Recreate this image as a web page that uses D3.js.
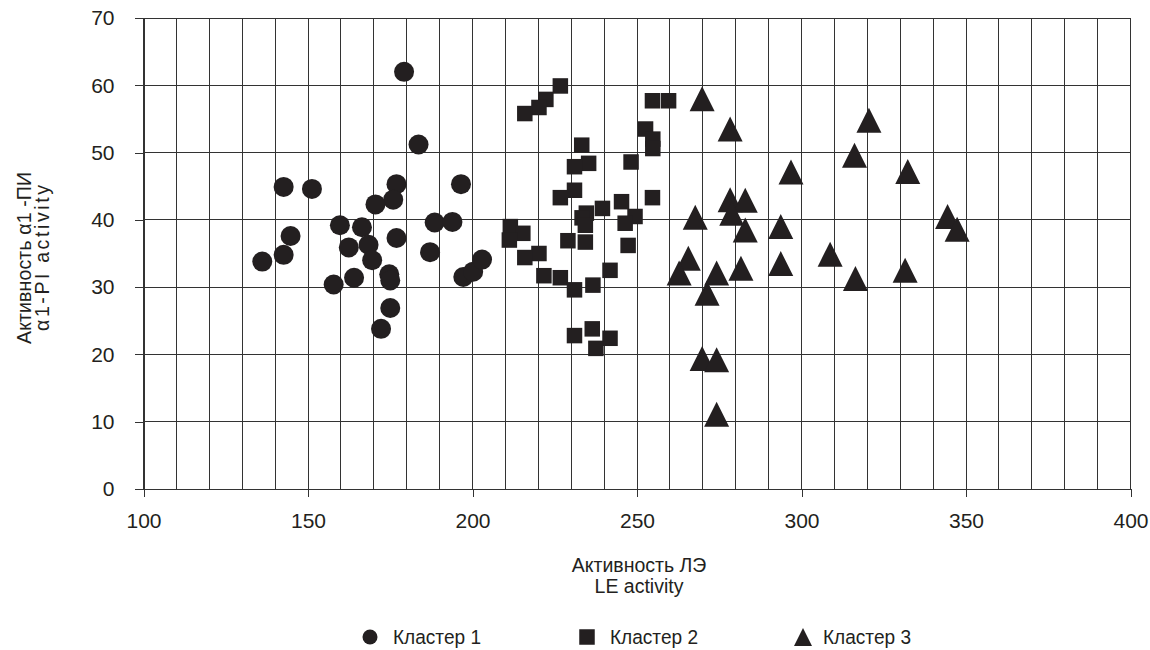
<!DOCTYPE html>
<html>
<head>
<meta charset="utf-8">
<script src="https://cdn.jsdelivr.net/npm/d3@7"></script>
<style>
  html, body { margin: 0; padding: 0; background: #fff; }
  svg text { font-family: "Liberation Sans Narrow", "Arial Narrow", "Liberation Sans", Arial, sans-serif; fill: #231f20; }
</style>
</head>
<body>
<svg id="chart" width="1150" height="650"></svg>
<script>
// ---- data ----
const cluster1 = [
  [179.2,62.0],[183.6,51.2],[142.6,44.9],[151.2,44.6],[176.9,45.3],[175.9,43.0],[170.5,42.3],
  [196.5,45.3],[188.5,39.6],[193.9,39.7],[159.7,39.2],[166.4,38.9],[144.7,37.6],[176.9,37.3],
  [162.4,35.9],[168.4,36.3],[169.5,34.0],[142.6,34.8],[136.1,33.8],[187.1,35.2],[164.0,31.4],
  [157.8,30.4],[174.7,31.9],[175.0,31.0],[197.2,31.5],[200.2,32.3],[202.9,34.1],[175.0,26.9],
  [172.2,23.8]
];
const cluster2 = [
  [226.7,59.9],[222.3,57.9],[220.2,56.7],[215.9,55.8],[254.7,57.7],[259.6,57.7],[252.6,53.5],
  [254.8,52.0],[254.8,50.6],[233.2,51.1],[235.3,48.4],[231.0,47.9],[248.2,48.6],[231.0,44.4],
  [226.7,43.3],[254.7,43.3],[245.3,42.7],[234.6,41.0],[239.5,41.7],[233.3,40.3],[249.4,40.5],
  [246.4,39.5],[234.3,39.2],[211.5,39.0],[215.3,38.0],[211.2,37.0],[229.0,36.9],[234.3,36.7],
  [247.3,36.2],[220.2,35.0],[215.9,34.4],[241.8,32.5],[221.7,31.7],[226.7,31.4],[231.0,29.6],
  [236.6,30.3],[236.4,23.8],[231.0,22.8],[241.8,22.4],[237.5,20.9]
];
const cluster3 = [
  [269.8,58.0],[278.3,53.5],[320.5,54.8],[316.1,49.6],[296.8,47.1],[332.3,47.2],[278.3,43.0],
  [282.9,42.9],[278.8,41.0],[267.7,40.4],[282.9,38.5],[293.7,39.0],[344.4,40.5],[347.3,38.6],
  [265.6,34.3],[262.8,32.1],[274.2,32.1],[281.6,32.8],[293.7,33.5],[308.7,34.9],[316.4,31.3],
  [331.5,32.5],[271.3,29.1],[269.8,19.4],[274.2,19.2],[274.2,11.1]
];
const seriesNames = ["Кластер 1", "Кластер 2", "Кластер 3"];
const xTicks = [100, 150, 200, 250, 300, 350, 400];
const yTicks = [0, 10, 20, 30, 40, 50, 60, 70];
const xGrid = d3.range(100, 401, 10);
const xTitle = ["Активность ЛЭ", "LE activity"];
const yTitle = ["Активность α1 -ПИ", "α1-PI activity"];

// ---- layout ----
const ink = "#231f20";
const gridColor = "#333333";
const svg = d3.select("#chart");
const x = d3.scaleLinear().domain([100, 400]).range([143.5, 1130.5]);
const y = d3.scaleLinear().domain([0, 70]).range([489, 18]);

// gridlines
const grid = svg.append("g").attr("shape-rendering", "crispEdges");
grid.selectAll("line.v").data(xGrid).join("line")
  .attr("x1", d => x(d)).attr("x2", d => x(d))
  .attr("y1", y(70)).attr("y2", y(0))
  .attr("stroke", gridColor).attr("stroke-width", 1);
grid.selectAll("line.h").data(yTicks).join("line")
  .attr("x1", x(100)).attr("x2", x(400))
  .attr("y1", d => y(d)).attr("y2", d => y(d))
  .attr("stroke", gridColor).attr("stroke-width", 1);

// axes
const xAxis = svg.append("g").attr("transform", `translate(0,${y(0)})`)
  .call(d3.axisBottom(x).tickValues(xTicks).tickSize(8).tickPadding(16).tickSizeOuter(0));
const yAxis = svg.append("g").attr("transform", `translate(${x(100)},0)`)
  .call(d3.axisLeft(y).tickValues(yTicks).tickSize(9).tickPadding(20).tickSizeOuter(0));
[xAxis, yAxis].forEach(a => {
  a.select(".domain").attr("stroke", gridColor).attr("shape-rendering", "crispEdges");
  a.selectAll(".tick line").attr("stroke", gridColor).attr("shape-rendering", "crispEdges");
  a.selectAll(".tick text").attr("font-size", 21).attr("fill", ink)
    .style("font-family", '"Liberation Sans Narrow", "Arial Narrow", "Liberation Sans", Arial, sans-serif');
});

// marker shapes
function drawMarker(g, kind, size) {
  if (kind === 0) {
    g.append("circle").attr("r", size / 2).attr("fill", ink);
  } else if (kind === 1) {
    g.append("rect").attr("x", -size / 2).attr("y", -size / 2)
      .attr("width", size).attr("height", size).attr("fill", ink);
  } else {
    g.append("path").attr("d", `M0,${-size/2} L${size/2},${size/2} L${-size/2},${size/2} Z`).attr("fill", ink);
  }
}
const markerSizes = [20, 15.5, 25];
[cluster1, cluster2, cluster3].forEach((data, k) => {
  const layer = svg.append("g");
  layer.selectAll("g").data(data).join("g")
    .attr("transform", d => `translate(${x(d[0])},${y(d[1])})`)
    .each(function () { drawMarker(d3.select(this), k, markerSizes[k]); });
});

// axis titles
const xt = svg.append("text").attr("text-anchor", "middle").attr("font-size", 19.5);
xTitle.forEach((t, i) => xt.append("tspan").attr("x", 639).attr("y", 572 + i * 21).text(t));
const yTitleLen = [172, 146];
yTitle.forEach((t, i) => {
  svg.append("text").attr("text-anchor", "middle").attr("font-size", 19.5)
    .attr("transform", "translate(0,258) rotate(-90)")
    .attr("x", 0).attr("y", 31 + i * 18)
    .attr("textLength", yTitleLen[i]).attr("lengthAdjust", "spacing")
    .text(t);
});

// legend
const legendX = [370, 587, 803];
const legendSizes = [15, 15.5, 18];
seriesNames.forEach((name, k) => {
  const g = svg.append("g").attr("transform", `translate(${legendX[k]},637)`);
  drawMarker(g, k, legendSizes[k]);
  g.append("text").attr("x", k === 2 ? 20 : 23).attr("y", 7).attr("font-size", 20.5)
    .attr("textLength", 88).attr("lengthAdjust", "spacingAndGlyphs").text(name);
});
</script>
</body>
</html>
